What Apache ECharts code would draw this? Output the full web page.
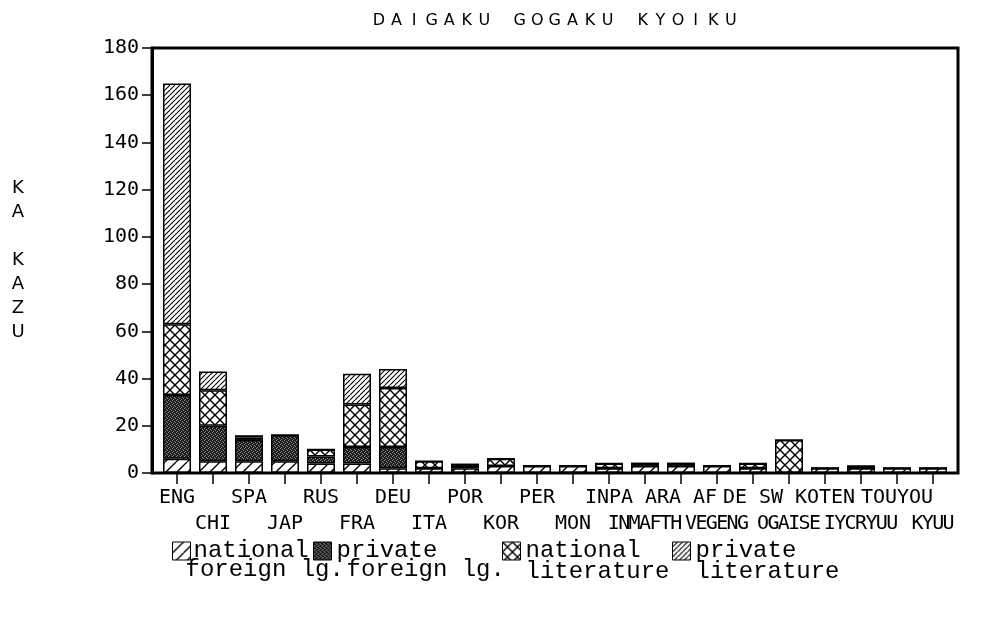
<!DOCTYPE html>
<html><head><meta charset="utf-8">
<script src="https://cdn.jsdelivr.net/npm/echarts@6/dist/echarts.min.js"></script>
<style>html,body{margin:0;padding:0;background:#fff}#c{width:991px;height:620px}</style>
</head><body><div id="c"></div>
<script>
const titleText = 'DAIGAKU GOGAKU KYOIKU';
const yAxisTitle = 'KA KAZU';
const categories = ['ENG','CHI','SPA','JAP','RUS','FRA','DEU','ITA','POR','KOR','PER','MON','INPA','INMAFTH','ARA AF','VEGENG','DE SW','OGAISE','KOTEN','IYCRYUU','TOUYOU','KYUU'];
const seriesNames = ['national foreign lg.','private foreign lg.','national literature','private literature'];
const nationalForeign = [6,5,5,5,4,4,2, 2,2,3,3,3,2,3,3,3,2,0,2,2,2,2];
const privateForeign  = [27,15,9,11,3,7,9, 0,1,0,0,0,0,1,1,0,0,0,0,0,0,0];
const nationalLit     = [30,15,1,0,3,18,25, 3,0,3,0,0,2,0,0,0,2,14,0,1,0,0];
const privateLit      = [102,8,1,0,0,13,8, 0,1,0,0,0,0,0,0,0,0,0,0,0,0,0];
const yMin = 0, yMax = 180, yStep = 20;

function tile(size, draw) {
  const c = document.createElement('canvas');
  c.width = c.height = size;
  const g = c.getContext('2d');
  g.fillStyle = '#fff'; g.fillRect(0,0,size,size);
  g.strokeStyle = '#000';
  draw(g, size);
  return { image: c, repeat: 'repeat' };
}
function slash(g, s) { g.beginPath(); for (let k=-1;k<=1;k++){ g.moveTo(k*s, s); g.lineTo(k*s+s, 0);} g.stroke(); }
function back(g, s) { g.beginPath(); for (let k=-1;k<=1;k++){ g.moveTo(k*s, 0); g.lineTo(k*s+s, s);} g.stroke(); }
const patNF = tile(11, (g,s)=>{ g.lineWidth=1.4; slash(g,s); });
const patPF = tile(4, (g,s)=>{ g.fillStyle='#1c1c1c'; g.fillRect(0,0,s,s); g.fillStyle='#8a8a8a';
  [[0,0],[2,1],[1,3],[3,2]].forEach(p=>g.fillRect(p[0],p[1],1,1)); });
const patNL = tile(10, (g,s)=>{ g.lineWidth=1.4; slash(g,s); back(g,s); });
const patPL = tile(5, (g,s)=>{ g.lineWidth=1.1; slash(g,s); });
const patterns = [patNF, patPF, patNL, patPL];
const values = [nationalForeign, privateForeign, nationalLit, privateLit];

const richChars = (t, key) => t.split('').map(ch => '{' + key + '|' + ch + '}').join('');
const lblFont = { fontFamily: 'DejaVu Sans Mono', fontSize: 20, lineHeight: 26, color: '#000' };

const chart = echarts.init(document.getElementById('c'), null, {renderer:'canvas'});
const gridL = 159, gridT = 48, gridW = 792, gridH = 425;
const legendX = [167, 308, 497, 667];

chart.setOption({
  animation: false,
  backgroundColor: '#fff',
  title: {
    text: richChars(titleText, 'c'), left: 365, top: 8,
    textStyle: { fontWeight: 'normal', rich: { c: { width: 17.6, align: 'center', fontFamily: 'DejaVu Sans', fontWeight: 'normal', fontSize: 16, color: '#000' } } }
  },
  grid: { left: gridL, top: gridT, width: gridW, height: gridH, containLabel: false },
  xAxis: {
    type: 'category', data: categories,
    axisLine: { show: false },
    axisTick: { show: true, alignWithLabel: true, length: 11, lineStyle: { color: '#000', width: 1.5 } },
    axisLabel: {
      interval: 0, margin: 12, ...lblFont,
      formatter: (v, i) => {
        if (i % 2 === 0) return '{w|' + v + '}';
        const s = i >= 13 ? richChars(v, 'n') : '{w|' + v + '}';
        return '{w| }\n' + s;
      },
      rich: {
        w: { ...lblFont },
        n: { ...lblFont, width: 10.4, align: 'center' }
      }
    }
  },
  yAxis: {
    type: 'value', min: yMin, max: yMax, interval: yStep, offset: 7,
    name: yAxisTitle.split('').join('\n'), nameLocation: 'middle', nameRotate: 0, nameGap: 134,
    nameTextStyle: { align: 'center', verticalAlign: 'middle', fontFamily: 'DejaVu Sans', fontSize: 18, lineHeight: 24, color: '#000' },
    axisLine: { show: true, lineStyle: { color: '#000', width: 3 } },
    axisTick: { show: true, length: 10, lineStyle: { color: '#000', width: 1.5 } },
    axisLabel: { margin: 13, color: '#000', fontFamily: 'DejaVu Sans Mono', fontSize: 20 },
    splitLine: { show: false }
  },
  legend: seriesNames.map((n, i) => ({
    data: [n], left: legendX[i], top: 515, itemWidth: 18, itemHeight: 18, itemGap: 0,
    selectedMode: false, icon: 'rect',
    itemStyle: { borderColor: '#000', borderWidth: 1 },
    formatter: name => { const p = name.split(' '); return '{s| }\n{a|' + p[0] + '}\n{b|' + p.slice(1).join(' ') + '}'; },
    textStyle: {
      fontFamily: 'Liberation Mono', fontSize: 24, lineHeight: 19, color: '#000',
      padding: i === 0 ? [0,0,0,-10] : [0,0,0,0],
      rich: {
        s: { fontFamily: 'Liberation Mono', fontSize: 24, lineHeight: 19 },
        a: { fontFamily: 'Liberation Mono', fontSize: 24, lineHeight: 19, padding: i === 0 ? [0,0,0,8] : [0,0,0,0] },
        b: { fontFamily: 'Liberation Mono', fontSize: 24, lineHeight: 19, padding: i === 1 ? [0,0,0,10] : (i >= 2 ? [3,0,0,0] : [0,0,0,0]) }
      }
    }
  })),
  graphic: [{
    type: 'rect', z: 100, silent: true,
    shape: { x: 152, y: gridT, width: 806, height: gridH },
    style: { fill: 'none', stroke: '#000', lineWidth: 3 }
  }],
  series: seriesNames.map((n, i) => ({
    name: n, type: 'bar', stack: 'all', barWidth: 28,
    data: values[i],
    itemStyle: { color: patterns[i], borderColor: '#000', borderWidth: 1.5 }
  }))
});
</script></body></html>
